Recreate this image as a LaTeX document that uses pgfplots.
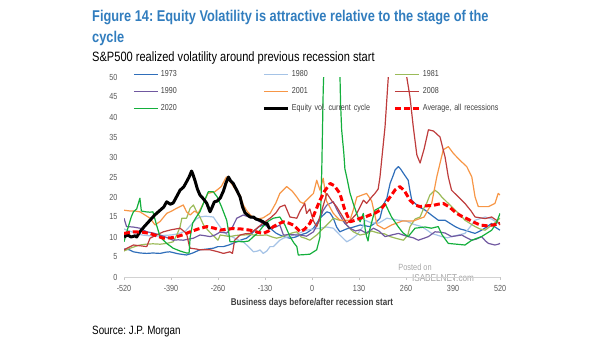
\documentclass[border=0pt]{standalone}
\usepackage{fontspec}
\setmainfont{Liberation Sans}[FakeStretch=0.82]
\usepackage{pgfplots}
\pgfplotsset{compat=1.18}
\definecolor{titleblue}{RGB}{49,125,190}
\definecolor{cA}{RGB}{47,110,186}
\definecolor{cB}{RGB}{165,195,230}
\definecolor{cC}{RGB}{155,187,89}
\definecolor{cD}{RGB}{112,88,160}
\definecolor{cE}{RGB}{247,150,70}
\definecolor{cF}{RGB}{190,60,60}
\definecolor{cG}{RGB}{20,175,60}
\definecolor{avg}{RGB}{255,0,0}
\definecolor{txt}{RGB}{64,64,64}
\definecolor{tick}{RGB}{89,89,89}
\begin{document}
\frenchspacing
\begin{tikzpicture}[x=1bp,y=1bp]
\useasboundingbox (0,0) rectangle (605,341);
\node[anchor=base west, inner sep=0, text=titleblue, font=\fontsize{15.6bp}{18bp}\selectfont\bfseries] at (92,320) {Figure 14: Equity Volatility is attractive relative to the stage of the};
\node[anchor=base west, inner sep=0, text=titleblue, font=\fontsize{15.6bp}{18bp}\selectfont\bfseries] at (92,299) {cycle};
\node[anchor=base west, inner sep=0, font=\fontsize{13.5bp}{16bp}\selectfont] at (92,280) {S\&P500 realized volatility around previous recession start};
\node[anchor=base west, inner sep=0, font=\fontsize{12bp}{14bp}\selectfont] at (92,7) {Source: J.P. Morgan};
\node[anchor=center, inner sep=0, text=gray!70, font=\fontsize{9bp}{10bp}\selectfont] at (415,74) {Posted on};
\node[anchor=center, inner sep=0, text=gray!70, font=\fontsize{10bp}{11bp}\selectfont] at (443,63) {ISABELNET.com};
\begin{axis}[
  at={(124bp,64bp)}, anchor=south west, scale only axis,
  width=376bp, height=200bp,
  xmin=-520, xmax=520, ymin=0, ymax=50,
  xtick={-520,-390,-260,-130,0,130,260,390,520},
  ytick={0,5,10,15,20,25,30,35,40,45,50},
  axis x line*=bottom, axis y line*=left,
  x axis line style={draw=gray!35, line width=0.8bp},
  y axis line style={draw=none},
  xtick style={draw=gray!45, line width=0.6bp},
  ytick style={draw=none},
  major tick length=3bp, tick align=outside,
  /pgf/number format/assume math mode=true,
  tick label style={font=\fontsize{8.8bp}{10bp}\selectfont, text=tick},
  xticklabel style={yshift=-2bp},
  xlabel={Business days before/after recession start},
  xlabel style={at={(axis description cs:0.5,-0.14)}, anchor=base, font=\fontsize{9.8bp}{11bp}\selectfont\bfseries, text=txt},
  legend columns=3,
  legend image code/.code={\draw[#1] (0bp,0bp) -- (24bp,0bp);},
  legend style={draw=none, fill=none, inner sep=0pt, at={(axis description cs:0.024,1.0325)}, anchor=north west,
    nodes={inner sep=0pt, text height=6bp, text depth=1bp, text width=99bp, align=left, font=\fontsize{8.7bp}{10bp}\selectfont, text=txt},
    column sep=2.5bp, row sep=10bp},
  every axis plot/.append style={line width=1.2bp, mark=none, line join=round},
]
\addplot[cA] coordinates {(-520,7) (-505,6.8) (-494,6.3) (-475,6) (-457,5.9) (-440,6) (-420,5.9) (-405,6.2) (-393,6.3) (-370,5.8) (-347,5.5) (-330,6) (-310,6.8) (-290,7) (-273,7.2) (-260,7.6) (-245,7.6) (-230,8) (-208,8.8) (-195,9.3) (-181,9.7) (-170,10.5) (-162,11.3) (-148,12.5) (-135,13) (-125,12.8) (-116,12.2) (-100,11) (-89,10.5) (-75,10) (-61,9.7) (-45,10) (-33,10.5) (-15,11) (4,12.2) (22,14.7) (41,16.3) (50,16) (59,14.7) (68,12.5) (77,11.3) (95,12) (115,12.5) (133,13) (147,12.8) (160,12.6) (175,13.5) (188,14.7) (197,18) (207,19.7) (216,23.4) (225,25.5) (230,26.8) (239,27.6) (245,27) (253,25.9) (266,24.2) (271,21.5) (276,19.2) (294,17.6) (313,16.7) (330,15.5) (349,14.2) (368,14.2) (380,13.5) (396,12.6) (410,12) (423,11.7) (440,11.2) (451,10.9) (469,11.7) (483,12.5) (497,13.4) (506,12.5) (520,11.7)};
\addlegendentry{1973}
\addplot[cB] coordinates {(-520,12) (-505,11.5) (-490,11) (-470,10.5) (-450,10.3) (-430,10.2) (-410,10.4) (-390,10.5) (-370,10.8) (-350,11.5) (-335,13) (-320,14.5) (-310,15) (-295,15.2) (-273,15) (-264,13.8) (-250,12) (-235,10.5) (-220,10) (-205,9.3) (-190,8.8) (-175,7.5) (-162,6.3) (-150,6.5) (-144,6.8) (-135,5.9) (-125,6.5) (-116,7.6) (-107,7.6) (-89,9.2) (-79,9.7) (-60,10.2) (-40,10.8) (-15,11.7) (5,12) (22,12.2) (40,12.5) (59,12.2) (77,10.5) (96,8.8) (110,9.5) (124,10.5) (140,12.5) (147,14.2) (165,13.5) (185,13.5) (207,14.7) (220,14.5) (239,14.2) (260,14) (280,13.2) (303,12.6) (317,11.8) (331,10.9) (345,10.5) (359,10.1) (375,9.8) (390,10.2) (405,10.5) (423,10.9) (437,12.5) (451,14.2) (465,14.6) (479,15) (497,14.5) (515,13.4) (520,13.2)};
\addlegendentry{1980}
\addplot[cC] coordinates {(-520,6.5) (-503,7.2) (-490,7.6) (-476,8) (-460,8.2) (-440,8.3) (-420,8.2) (-402,8.4) (-384,8.8) (-374,10.5) (-365,12.5) (-360,14.7) (-347,14.7) (-337,17.2) (-328,18) (-319,16.3) (-310,15) (-300,13) (-288,11.7) (-275,10.5) (-260,9.2) (-254,10.5) (-240,10.3) (-227,10.1) (-210,10.4) (-190,10.5) (-170,10.6) (-150,10.4) (-125,10.5) (-110,10) (-98,9.7) (-85,10) (-70,10.5) (-56,11) (-42,11.3) (-30,10) (-19,9.7) (-6,9.2) (13,10.5) (27,11.8) (41,13) (59,14.7) (72,14.3) (87,14) (100,12.5) (114,11.3) (133,10.5) (150,10.8) (165,11.5) (183,11) (200,10.8) (216,10.1) (235,9.6) (253,9.2) (265,10.5) (271,12.6) (285,14.5) (299,15) (308,17) (317,18.4) (326,20.5) (340,21.7) (350,21) (359,20) (377,18.4) (396,16.7) (410,15.5) (423,14.2) (437,13.4) (451,12.6) (465,12) (479,11.7) (490,12.5) (505,13.5) (520,14.7)};
\addlegendentry{1981}
\addplot[cD] coordinates {(-520,14.7) (-513,12.6) (-495,12.5) (-476,12.2) (-457,11.3) (-440,11) (-420,10.5) (-400,9.8) (-384,9.2) (-370,9.3) (-356,9.2) (-340,9.5) (-328,9.7) (-310,10.5) (-295,10.3) (-282,10.1) (-268,10.5) (-255,11.2) (-236,11) (-220,12.5) (-208,14.7) (-190,15.5) (-175,15) (-162,14.7) (-144,13.8) (-130,13) (-116,12.2) (-100,12.5) (-89,13) (-79,10.5) (-60,10.6) (-42,10.5) (-33,10.5) (-15,10.2) (4,11.3) (20,14) (30,16.5) (41,18) (59,18.8) (68,17) (77,15.5) (90,13.5) (105,12.2) (120,11.5) (133,11.8) (150,11) (170,12.2) (185,11.5) (202,10.1) (220,10.5) (239,10.9) (252,10.5) (266,10.1) (280,9.8) (294,9.2) (310,9.7) (322,10.1) (340,11.3) (355,11.2) (368,11) (386,10.1) (400,10.3) (414,10.5) (428,9.8) (442,9.2) (455,9.5) (469,10.1) (480,9) (488,8.4) (506,8) (515,8.2) (520,8.4)};
\addlegendentry{1990}
\addplot[cE] coordinates {(-520,16.7) (-503,16.5) (-490,16.5) (-476,16.3) (-462,15.5) (-448,14.7) (-434,13) (-420,13.9) (-402,15.9) (-388,16.5) (-374,17.2) (-356,18) (-347,16.3) (-337,15.5) (-325,16.5) (-315,15.9) (-300,18.5) (-288,20.9) (-269,21.3) (-251,22.6) (-237,25) (-223,23.4) (-205,20.9) (-199,20.5) (-190,18) (-180,16.5) (-165,15) (-150,14.5) (-135,14.8) (-116,15.9) (-100,18.5) (-89,20.9) (-70,22.6) (-55,21.5) (-42,20) (-33,18.8) (-24,18.4) (-15,19.2) (4,20.9) (13,24.2) (22,21.7) (31,24.7) (40,19) (59,15.9) (77,14.2) (105,14.2) (115,17) (124,20) (151,20.9) (165,19) (180,13) (200,12) (220,13) (250,14) (280,14) (310,15) (331,18.4) (345,25) (363,31.8) (377,32.6) (391,30.9) (409,29.2) (428,27.6) (442,25) (451,20) (460,17.6) (488,17.6) (506,18.4) (515,20.9) (520,20.5)};
\addlegendentry{2001}
\addplot[cF] coordinates {(-520,6.8) (-505,7.5) (-494,8) (-475,7.8) (-457,7.6) (-448,9.7) (-430,10.5) (-411,11.3) (-390,11.8) (-365,12.2) (-347,10.9) (-340,8) (-337,7.2) (-320,7) (-310,6.8) (-297,6.8) (-282,6.8) (-260,6.3) (-245,5.9) (-227,6.3) (-220,5.9) (-214,9.2) (-199,10.5) (-185,10.8) (-171,10.9) (-155,12) (-135,13.5) (-116,14.7) (-100,16) (-89,17.5) (-75,18) (-61,15) (-42,14.7) (-33,16.5) (-20,18.4) (-15,15.9) (-6,17) (4,14) (13,12.6) (25,16) (41,20.9) (55,19) (68,17.6) (82,15.5) (96,13.4) (110,14.5) (124,15.9) (142,19.2) (151,18.4) (165,20) (174,20.9) (183,22) (188,25) (202,37.6) (211,50) (220,70) (240,80) (255,65) (262,50) (271,45) (280,37.6) (290,30.5) (299,28.5) (310,32) (322,36.8) (336,36.5) (354,35) (368,30) (377,25) (386,21.7) (405,20) (423,18.4) (440,16.5) (451,15) (465,14.8) (479,14.6) (497,15) (510,14.2) (520,13)};
\addlegendentry{2008}
\addplot[cG] coordinates {(-520,8.8) (-510,12) (-500,15) (-494,16.3) (-485,17) (-476,19.7) (-472,16.5) (-460,16.3) (-448,16.2) (-440,16.3) (-430,13) (-420,10) (-402,8.4) (-384,7.2) (-365,6.5) (-347,6) (-340,6) (-337,10) (-330,13.5) (-320,15) (-310,16.3) (-300,18.5) (-287,21.3) (-273,21.3) (-262,20) (-250,17.5) (-236,14.2) (-230,11) (-227,8.8) (-210,8.9) (-190,8.8) (-175,9) (-162,10.1) (-150,11) (-135,12.7) (-120,14) (-107,14.7) (-89,15) (-75,13) (-61,10.1) (-50,8.5) (-42,7.6) (-38,5.5) (-20,5.6) (-6,5.7) (13,6.8) (22,10) (27,26.8) (31,46.8) (36,60) (75,60) (79,43.4) (82,36.8) (88,30.9) (91,27) (96,25) (105,21) (114,18.4) (125,15.5) (133,13.8) (142,15.9) (147,12) (151,10.1) (155,9) (160,12) (174,16.7) (190,17.5) (202,18.4) (212,16.5) (220,15) (239,12.5) (252,11) (266,10.1) (285,12.2) (313,12.5) (330,12.2) (349,12.6) (360,10.5) (377,8.4) (400,8.2) (423,8) (442,9.2) (469,10.1) (497,11.7) (510,13.5) (520,15.9)};
\addlegendentry{2020}
\addplot[black, line width=3bp] coordinates {(-520,10) (-510,10.5) (-500,10) (-490,10.3) (-485,10) (-476,11.3) (-465,12.5) (-448,14.2) (-435,15.5) (-420,16.7) (-410,17.5) (-402,18.8) (-392,18.2) (-384,18.5) (-375,20) (-365,21.7) (-355,22.5) (-347,23.8) (-340,25) (-333,26.5) (-328,25.3) (-324,24.2) (-317,22) (-310,20.5) (-300,19.5) (-291,18.4) (-282,16.3) (-276,17.5) (-270,18.8) (-262,19) (-254,19.7) (-245,21.5) (-238,23.5) (-231,25) (-225,24) (-218,23.4) (-210,22) (-199,20) (-192,17.5) (-185,16) (-178,15.5) (-171,15) (-162,15) (-155,14.5) (-144,14.2) (-135,13.8) (-130,13.3) (-125,13.5) (-120,12.5) (-116,12)};
\addlegendentry{Equity vol. current cycle}
\addplot[avg, line width=3bp, dash pattern=on 6bp off 3bp] coordinates {(-520,10.9) (-494,11.3) (-470,11.2) (-448,10.9) (-430,10.3) (-411,9.7) (-390,9.8) (-374,10.1) (-355,10.6) (-337,11.3) (-315,12) (-291,12.6) (-270,12.2) (-254,11.7) (-235,12) (-218,12.1) (-195,12) (-171,11.7) (-150,11.2) (-135,10.9) (-120,11.5) (-107,12.6) (-90,13.4) (-79,13.8) (-65,13.5) (-52,13) (-40,12) (-33,11.3) (-20,12) (-6,13.4) (5,15.5) (22,19.2) (35,21.5) (50,23.4) (62,22.8) (77,20.9) (90,17) (105,13.8) (120,14.2) (133,14.7) (147,15) (160,15.5) (175,16) (188,16.7) (200,18) (216,20) (230,21.8) (243,22.6) (256,21.5) (271,19.2) (285,18) (299,17.6) (317,17.8) (335,17.9) (349,18.2) (363,18.4) (380,17.5) (400,15.9) (414,15.2) (428,14.6) (445,13.8) (465,13) (483,12.8) (501,13) (520,13.4)};
\addlegendentry{Average, all recessions}
\end{axis}
\end{tikzpicture}
\end{document}
